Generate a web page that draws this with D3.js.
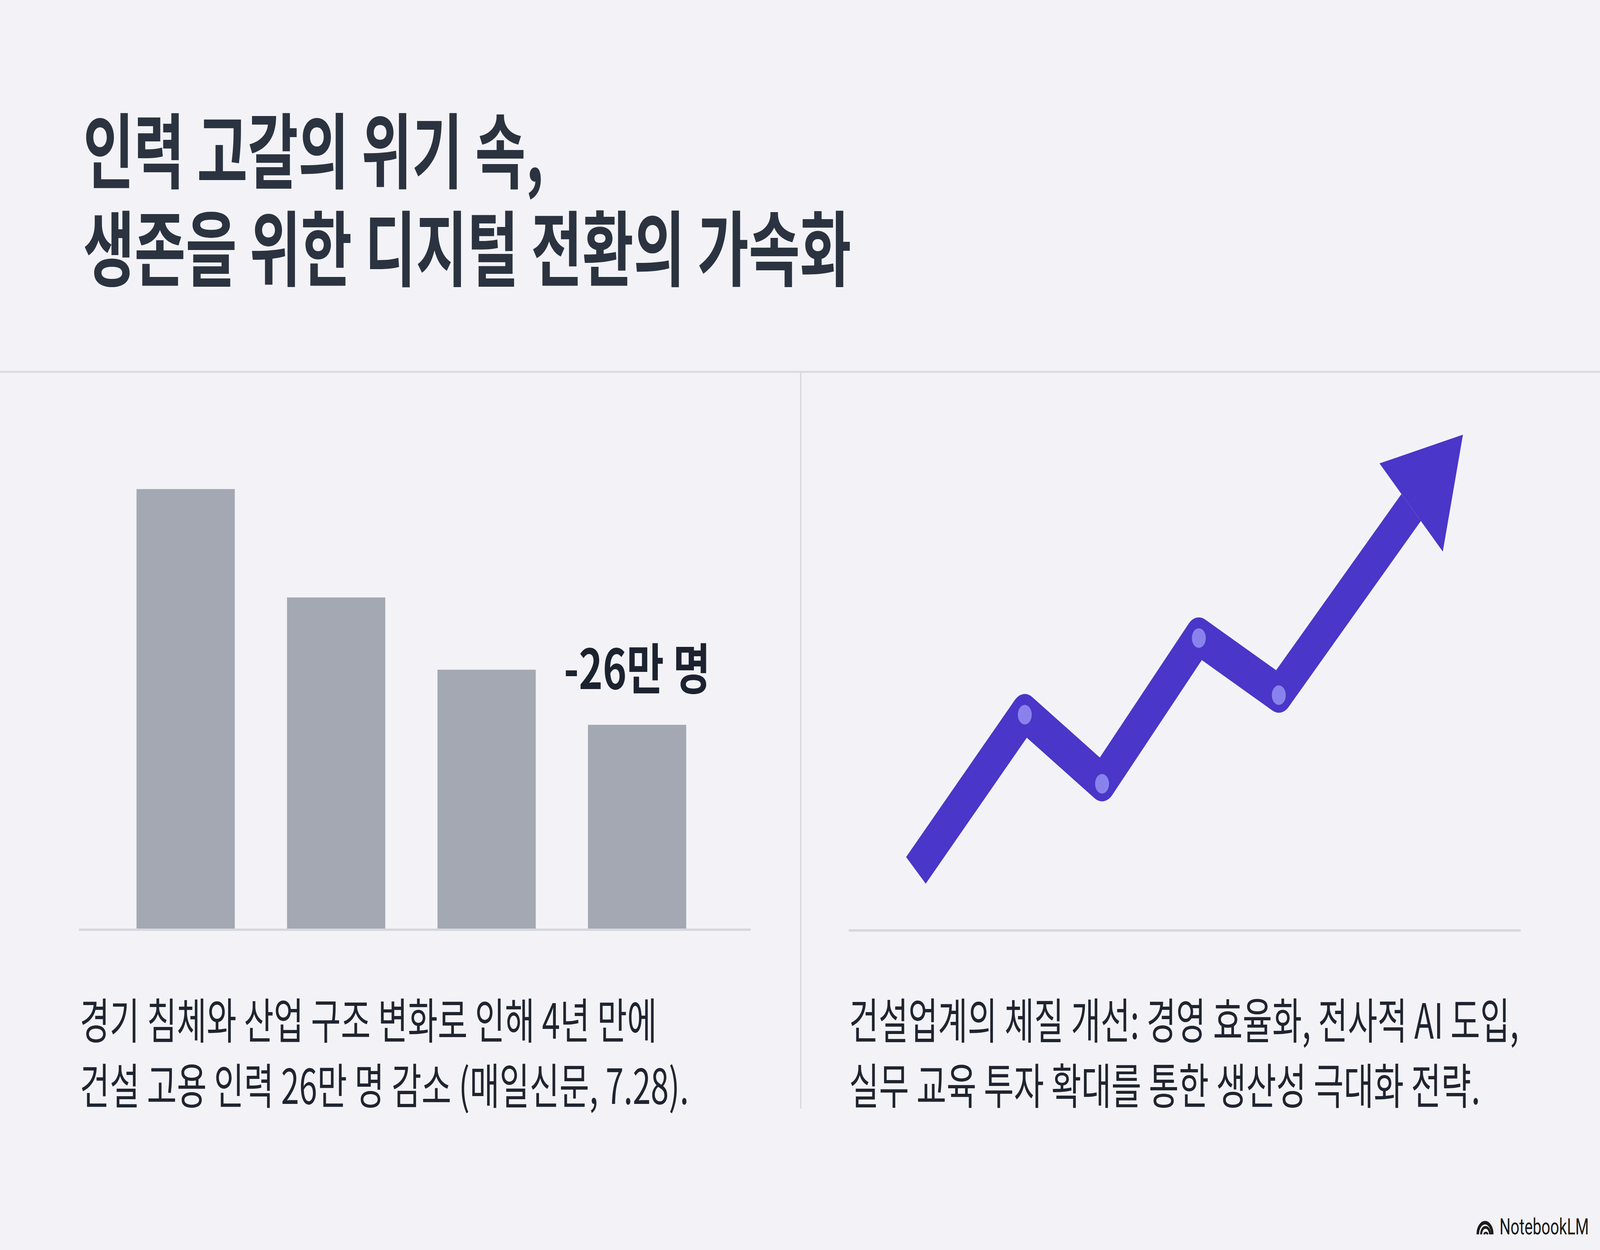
<!DOCTYPE html>
<html><head><meta charset="utf-8">
<script src="https://cdn.jsdelivr.net/npm/d3@7"></script>
<style>html,body{margin:0;padding:0;background:#F3F3F7;overflow:hidden;width:100%;height:100%}svg{display:block;width:100vw;height:100vh}</style>
</head><body><svg id="c"></svg>
<script>
// ---- data ----
const titleLines = ["인력 고갈의 위기 속,", "생존을 위한 디지털 전환의 가속화"];
const barCategories = ["4년 전", "3년 전", "2년 전", "현재"];
const barValues = [100, 75.4, 59.0, 46.5];
const barLabel = "-26만 명";
const barLabelIndex = 3;
const arrowX = [10.0, 26.2, 37.7, 52.1, 64.0, 91.4];
const arrowY = [12.0, 43.4, 29.6, 58.7, 47.3, 99.0];
const markerIndex = [1, 2, 3, 4];
const leftCaption = ["경기 침체와 산업 구조 변화로 인해 4년 만에", "건설 고용 인력 26만 명 감소 (매일신문, 7.28)."];
const rightCaption = ["건설업계의 체질 개선: 경영 효율화, 전사적 AI 도입,", "실무 교육 투자 확대를 통한 생산성 극대화 전략."];
const brand = "NotebookLM";

// ---- drawing ----
const W = 5733, H = 3200;
const FONT = "'Noto Sans CJK KR','Noto Sans',sans-serif";
const svg = d3.select("#c").attr("viewBox", `0 0 ${W} ${H}`).attr("preserveAspectRatio", "none");
svg.append("rect").attr("width", W).attr("height", H).attr("fill", "#F3F3F7");

// title
const titleWidths = [1650, 2752];
titleLines.forEach((t, i) => svg.append("text")
  .attr("x", 298).attr("y", 466 + i * 250)
  .attr("font-family", FONT).attr("font-weight", 700).attr("font-size", 210).attr("fill", "#2B3340")
  .attr("textLength", titleWidths[i]).attr("lengthAdjust", "spacingAndGlyphs").text(t));

// dividers
const divColor = "#D9DADF";
svg.append("line").attr("x1", 0).attr("x2", W).attr("y1", 952).attr("y2", 952)
  .attr("stroke", divColor).attr("stroke-width", 5);
svg.append("line").attr("x1", 2869).attr("x2", 2869).attr("y1", 952).attr("y2", 2838)
  .attr("stroke", divColor).attr("stroke-width", 5);

// ---- left bar chart ----
const xBar = d3.scaleBand().domain(barCategories).range([270, 2678]).paddingInner(0.347).paddingOuter(0.4065);
const yBar = d3.scaleLinear().domain([0, 100]).range([2380, 1252]);
svg.append("g").selectAll("rect").data(barValues).join("rect")
  .attr("x", (d, i) => xBar(barCategories[i]))
  .attr("y", d => yBar(d))
  .attr("width", xBar.bandwidth())
  .attr("height", d => yBar(0) - yBar(d))
  .attr("fill", "#A3A8B2");
svg.append("line").attr("x1", 283).attr("x2", 2690).attr("y1", yBar(0)).attr("y2", yBar(0))
  .attr("stroke", "#D6D7DD").attr("stroke-width", 6);
svg.append("text")
  .attr("x", xBar(barCategories[barLabelIndex]) + xBar.bandwidth() / 2)
  .attr("y", yBar(barValues[barLabelIndex]) - 91)
  .attr("text-anchor", "middle").attr("font-family", FONT).attr("font-weight", 700)
  .attr("font-size", 140).attr("fill", "#1C2230")
  .attr("textLength", 525).attr("lengthAdjust", "spacingAndGlyphs").text(barLabel);

// ---- right arrow chart ----
const xLine = d3.scaleLinear().domain([0, 100]).range([3041, 5449]);
const yLine = d3.scaleLinear().domain([0, 100]).range([2382, 1100]);
svg.append("line").attr("x1", xLine(0)).attr("x2", xLine(100)).attr("y1", yLine(0)).attr("y2", yLine(0))
  .attr("stroke", "#D6D7DD").attr("stroke-width", 6);

const pts = arrowX.map((x, i) => [xLine(x), yLine(arrowY[i])]);
const tip = pts[pts.length - 1], prev = pts[pts.length - 2];
const dx = tip[0] - prev[0], dy = tip[1] - prev[1], len = Math.hypot(dx, dy);
const ux = dx / len, uy = dy / len, nx = -uy, ny = ux;
const headLen = 263, headW = 320;
const base = [tip[0] - ux * headLen, tip[1] - uy * headLen];
const shaft = pts.slice(0, -1).concat([base]);
const lineColor = "#4A36C8";
svg.append("path").attr("d", d3.line()(shaft)).attr("fill", "none")
  .attr("stroke", lineColor).attr("stroke-width", 98)
  .attr("stroke-linejoin", "round").attr("stroke-linecap", "butt");
svg.append("path").attr("d", d3.line()([
  tip,
  [base[0] + nx * headW / 2, base[1] + ny * headW / 2],
  [base[0] - nx * headW / 2, base[1] - ny * headW / 2]
]) + "Z").attr("fill", lineColor);
svg.append("g").selectAll("circle").data(markerIndex).join("circle")
  .attr("cx", i => xLine(arrowX[i])).attr("cy", i => yLine(arrowY[i]) + 4)
  .attr("r", 25).attr("fill", "#8A82EC");

// ---- captions ----
function caption(lines, x, widths) {
  lines.forEach((s, i) => svg.append("text")
    .attr("x", x).attr("y", 2659 + i * 167)
    .attr("font-family", FONT).attr("font-weight", 400).attr("font-size", 124).attr("fill", "#1F2430")
    .attr("textLength", widths[i]).attr("lengthAdjust", "spacingAndGlyphs").text(s));
}
caption(leftCaption, 286, [2068, 2182]);
caption(rightCaption, 3042, [2400, 2262]);

// ---- brand ----
const bg = svg.append("g").attr("transform", "translate(5321,3160)");
bg.append("path").attr("d", "M-26,0 A26,30 0 0 1 26,0").attr("fill", "none").attr("stroke", "#1A1A1A").attr("stroke-width", 9);
bg.append("path").attr("d", "M-14,0 A16,18 0 0 1 18,0").attr("fill", "none").attr("stroke", "#1A1A1A").attr("stroke-width", 7);
bg.append("path").attr("d", "M-4,0 A8,8 0 0 1 10,0").attr("fill", "none").attr("stroke", "#1A1A1A").attr("stroke-width", 5);
svg.append("text").attr("x", 5693).attr("y", 3160).attr("text-anchor", "end")
  .attr("font-family", "Roboto, 'Noto Sans', sans-serif").attr("font-size", 58).attr("fill", "#1A1A1A")
  .attr("textLength", 320).attr("lengthAdjust", "spacingAndGlyphs").text(brand);
</script>
</body></html>
